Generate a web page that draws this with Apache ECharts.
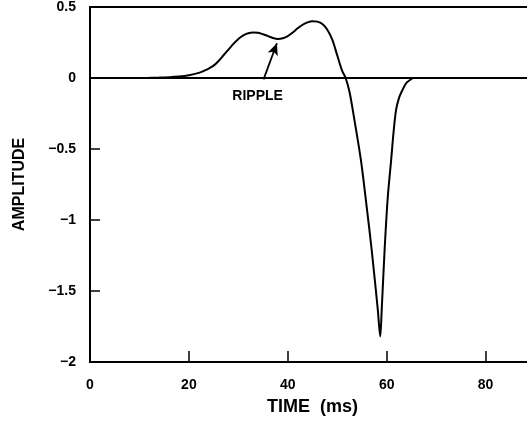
<!DOCTYPE html>
<html>
<head>
<meta charset="utf-8">
<script src="https://cdn.jsdelivr.net/npm/echarts@6/dist/echarts.min.js"></script>
<style>
  html, body { margin: 0; padding: 0; overflow: hidden; background: #fff; }
  #chart { width: 540px; height: 422px; }
</style>
</head>
<body>
<div id="chart"></div>
<script>
  // pulse (time in ms, amplitude)
  const timeMs = [0, 10, 12, 14, 16, 18, 20, 22, 23, 24, 25, 26, 27, 28, 29, 30, 31, 32, 33, 34, 35, 36, 37, 38, 39, 40,
    41, 42, 43, 44, 45, 46, 47, 48, 49, 50, 51, 51.7, 52.5, 53.5, 54.8, 56, 57, 58.2, 58.7, 59.0, 59.6, 60.2, 60.9, 61.4,
    61.9, 62.5, 63.2, 64, 65.3];
  const amplitude = [0, 0, 0.001, 0.003, 0.006, 0.011, 0.02, 0.036, 0.05, 0.066, 0.087, 0.12, 0.16, 0.2, 0.24, 0.275,
    0.3, 0.315, 0.32, 0.318, 0.308, 0.295, 0.282, 0.275, 0.28, 0.295, 0.32, 0.35, 0.375, 0.392, 0.4, 0.397, 0.38, 0.34,
    0.27, 0.16, 0.05, 0, -0.1, -0.3, -0.58, -0.92, -1.22, -1.63, -1.82, -1.63, -1.2, -0.85, -0.58, -0.38,
    -0.225, -0.14, -0.085, -0.035, 0];

  // "RIPPLE" callout
  const arrowTail = [35.1, -0.01];
  const arrowTip = [37.8, 0.245];
  const rippleAt = [33.9, -0.125];

  const font = 'Liberation Sans, Arial, sans-serif';
  const minus = v => String(v).replace('-', '\u2212');

  let chart = echarts.init(document.getElementById('chart'));

  chart.setOption({
    animation: false,
    grid: {
      left: 90, right: 5, top: 7, bottom: 60,
      show: true, borderColor: '#000', borderWidth: 2
    },
    xAxis: {
      type: 'value',
      min: 0, max: 90, interval: 20,
      name: 'TIME  (ms)',
      nameLocation: 'middle',
      nameGap: 36,
      nameTextStyle: { color: '#000', fontFamily: font, fontWeight: 'bold', fontSize: 18 },
      axisLine: { show: true, onZero: false, lineStyle: { color: '#000', width: 2 } },
      axisTick: { show: true, inside: true, length: 11, lineStyle: { color: '#000', width: 1.5 } },
      axisLabel: { color: '#000', fontFamily: font, fontWeight: 'bold', fontSize: 14, margin: 16, showMaxLabel: false },
      splitLine: { show: false }
    },
    yAxis: {
      type: 'value',
      min: -2, max: 0.5, interval: 0.5,
      name: 'AMPLITUDE',
      nameLocation: 'middle',
      nameRotate: 90,
      nameGap: 62,
      nameTextStyle: { color: '#000', fontFamily: font, fontWeight: 'bold', fontSize: 16 },
      axisLine: { show: true, onZero: false, lineStyle: { color: '#000', width: 2 } },
      axisTick: { show: true, inside: true, length: 10, lineStyle: { color: '#000', width: 1.5 } },
      axisLabel: { color: '#000', fontFamily: font, fontWeight: 'bold', fontSize: 14, margin: 14, formatter: minus },
      splitLine: { show: false }
    },
    series: [{
      type: 'line',
      data: timeMs.map((t, i) => [t, amplitude[i]]),
      smooth: 0.3,
      showSymbol: false,
      lineStyle: { color: '#000', width: 2 },
      markLine: {
        silent: true,
        symbol: ['none', 'none'],
        label: { show: false },
        data: [
          { yAxis: 0, lineStyle: { color: '#000', width: 2, type: 'solid' } },
          [
            { coord: arrowTail, symbol: 'none' },
            { coord: arrowTip, symbol: 'arrow', symbolSize: [8, 12] }
          ]
        ],
        lineStyle: { color: '#000', width: 1.8, type: 'solid' }
      },
      markPoint: {
        silent: true,
        symbol: 'circle',
        symbolSize: 0,
        label: {
          show: true,
          position: 'inside',
          formatter: 'RIPPLE',
          color: '#000',
          fontFamily: font,
          fontWeight: 'bold',
          fontSize: 14
        },
        data: [{ coord: rippleAt }]
      }
    }]
  });
</script>
</body>
</html>
